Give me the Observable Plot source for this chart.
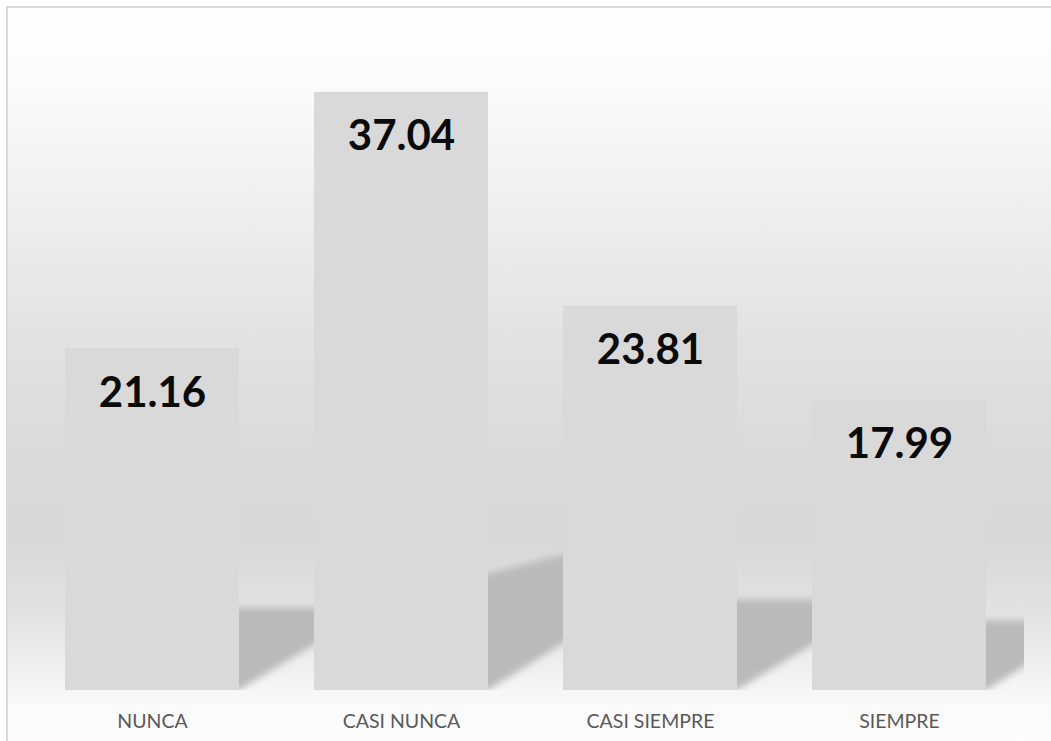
<!DOCTYPE html>
<html><head><meta charset="utf-8">
<script src="https://cdn.jsdelivr.net/npm/d3@7"></script>
<script src="https://cdn.jsdelivr.net/npm/@observablehq/plot@0.6"></script>
<style>
html,body{margin:0;padding:0;background:#fff;}
#wrap{position:relative;width:1051px;height:741px;overflow:hidden;}
#bg{position:absolute;left:6px;top:6px;width:1060px;height:750px;border-left:2px solid #d9d9d9;border-top:2px solid #d9d9d9;
background:linear-gradient(to bottom,#fefefe 0px,#fcfcfc 72px,#f0f0f0 182px,#e2e2e2 332px,#d9d9d9 457px,#d8d8d8 532px,#e2e2e2 602px,#f0f0f0 662px,#fafafa 697px,#fdfdfd 735px);}
#chart{position:absolute;left:0;top:0;}
</style>
</head><body>
<div id="wrap"><div id="bg"></div><div id="chart"></div></div>
<script>
const categories = ["NUNCA", "CASI NUNCA", "CASI SIEMPRE", "SIEMPRE"];
const values = [21.16, 37.04, 23.81, 17.99];
// cast shadow behind each bar (value units)
const shadowTopLeft = [5.1, 7.1, 5.6, 4.3];
const shadowTopRight = [5.1, 8.5, 5.6, 4.3];
const shadowBottomRight = [2.8, 2.9, 2.8, 2.9];

const data = categories.map((c, i) => ({category: c, value: values[i]}));
const W = 1051, H = 741;

const plot = Plot.plot({
  width: W, height: H,
  marginLeft: 28, marginRight: 27, marginTop: 44, marginBottom: 51,
  style: {background: "transparent", fontFamily: "Lato, 'Open Sans', sans-serif", fontSize: "19.5px", color: "#595959", overflow: "visible"},
  x: {domain: categories, paddingInner: 0.3, paddingOuter: 0.15, tickSize: 0, tickPadding: 24, label: null},
  y: {domain: [0, 40], axis: null},
  marks: [
    Plot.barY(data, {x: "category", y: "value", fill: "#d9d9d9"}),
    Plot.text(data, {x: "category", y: "value", text: d => d.value.toFixed(2), dy: 58, lineAnchor: "bottom",
      fontSize: 42, fontWeight: "bold", fill: "#0a0a0a"})
  ]
});
document.getElementById("chart").appendChild(plot);

// shadows, positioned with the plot's own scales
const svg = d3.select(plot);
const xs = plot.scale("x"), ys = plot.scale("y");
const bw = xs.bandwidth, step = xs.step;
const defs = svg.insert("defs", ":first-child");
defs.append("filter").attr("id", "shBlur").attr("x", "-20%").attr("y", "-20%").attr("width", "140%").attr("height", "140%")
  .append("feGaussianBlur").attr("stdDeviation", 3.5);
const xr = xs.range;
defs.append("clipPath").attr("id", "shClip").append("rect")
  .attr("x", Math.min(...xr)).attr("y", 0).attr("width", Math.abs(xr[1] - xr[0])).attr("height", ys.apply(0));
const barG = svg.select('g[aria-label="bar"]').node();
const outer = svg.insert("g", () => barG).attr("clip-path", "url(#shClip)");
const inner = outer.append("g").attr("filter", "url(#shBlur)");
categories.forEach((c, i) => {
  const L = xs.apply(c) + bw, R = L + (step - bw);
  const pts = [[L - 8, ys.apply(shadowTopLeft[i])], [R + 8, ys.apply(shadowTopRight[i])],
               [R + 8, ys.apply(shadowBottomRight[i]) - 5], [R, ys.apply(shadowBottomRight[i])], [L, ys.apply(0)], [L - 8, ys.apply(0)]];
  inner.append("path").attr("d", d3.line()(pts) + "Z").attr("fill", "#bababa");
});
</script>
</body></html>
